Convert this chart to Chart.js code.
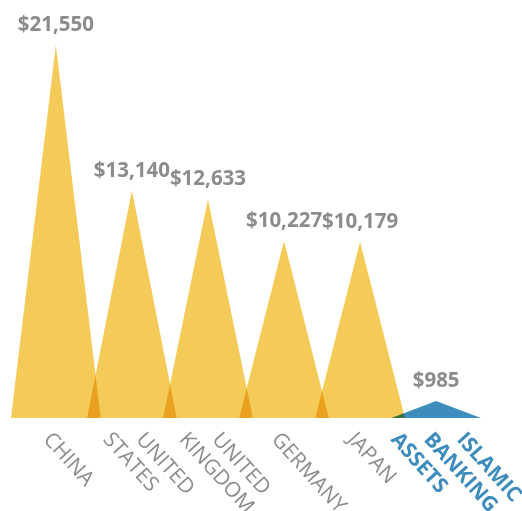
<!DOCTYPE html>
<html>
<head>
<meta charset="utf-8">
<script src="https://cdn.jsdelivr.net/npm/chart.js@4"></script>
<style>
  body { margin: 0; background: #fff; }
</style>
</head>
<body>
<canvas id="peaks" width="522" height="511"></canvas>
<script>
// data
const countries = [['CHINA'], ['UNITED', 'STATES'], ['UNITED', 'KINGDOM'], ['GERMANY'], ['JAPAN'], ['ISLAMIC', 'BANKING', 'ASSETS']];
const assets = [21550, 13140, 12633, 10227, 10179, 985];
const valueLabels = ['$21,550', '$13,140', '$12,633', '$10,227', '$10,179', '$985'];
const highlight = 5; // islamic banking is the blue one

const YELLOW = '#f4cb58';
const BLUE = '#3e8cbc';
const GREY = '#8c8c8c';
const HALF = 0.59; // half width of each peak, in category units

const datasets = assets.map((v, i) => ({
    data: [{ x: i - HALF, y: 0 }, { x: i, y: v }, { x: i + HALF, y: 0 }],
    fill: 'origin',
    backgroundColor: i === highlight ? BLUE : YELLOW,
    borderColor: 'rgba(0,0,0,0)',
    borderWidth: 0,
    pointRadius: 0,
    tension: 0
}));

// overlapping peaks get multiplied, gives the orange / green overlaps
const multiplyPlugin = {
    id: 'multiply',
    beforeDatasetsDraw(chart) {
        chart.ctx.save();
        chart.ctx.globalCompositeOperation = 'multiply';
    },
    afterDatasetsDraw(chart) {
        chart.ctx.restore();
    }
};

const labelsPlugin = {
    id: 'peakLabels',
    afterDraw(chart) {
        const ctx = chart.ctx;
        const xs = chart.scales.x;
        const ys = chart.scales.y;
        ctx.save();
        // values above the peaks
        ctx.fillStyle = GREY;
        ctx.font = 'bold 20.5px "Open Sans"';
        ctx.textAlign = 'center';
        ctx.textBaseline = 'alphabetic';
        assets.forEach((v, i) => {
            ctx.fillText(valueLabels[i], xs.getPixelForValue(i), ys.getPixelForValue(v) - 14);
        });
        // rotated category names
        ctx.textAlign = 'left';
        ctx.textBaseline = 'top';
        countries.forEach((lines, i) => {
            const x = xs.getPixelForValue(i);
            const n = lines.length;
            ctx.fillStyle = i === highlight ? BLUE : GREY;
            ctx.font = (i === highlight ? 'bold ' : '') + '21px "Open Sans"';
            lines.forEach((line, j) => {
                ctx.save();
                ctx.translate(x - 1 + ((n - 1) / 2 - j) * 33, 429);
                ctx.rotate(48 * Math.PI / 180);
                ctx.fillText(line, 0, 0);
                ctx.restore();
            });
        });
        ctx.restore();
    }
};

const chart = new Chart(document.getElementById('peaks').getContext('2d'), {
    type: 'line',
    data: { datasets: datasets },
    options: {
        responsive: false,
        animation: false,
        layout: { padding: { left: 11, right: 41, top: 45, bottom: 93 } },
        plugins: { legend: { display: false }, tooltip: { enabled: false } },
        scales: {
            x: { type: 'linear', min: -HALF, max: assets.length - 1 + HALF, display: false },
            y: { min: 0, max: 21550, display: false }
        }
    },
    plugins: [multiplyPlugin, labelsPlugin]
});
</script>
</body>
</html>
